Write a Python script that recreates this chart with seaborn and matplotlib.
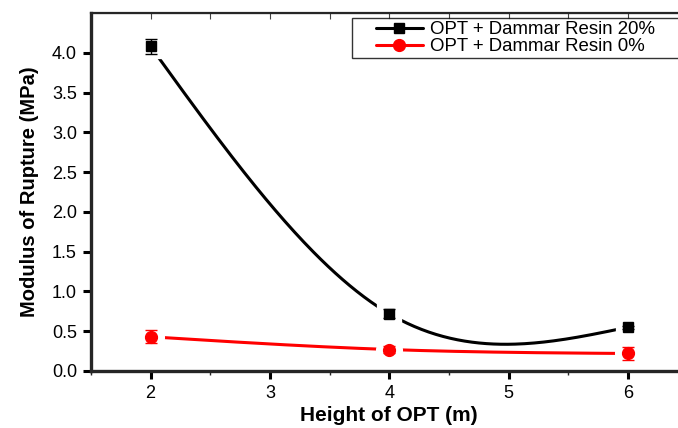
import numpy as np
import pandas as pd
import matplotlib
matplotlib.use("Agg")
import matplotlib.pyplot as plt
from matplotlib.lines import Line2D
from matplotlib.legend_handler import HandlerLine2D
from matplotlib.ticker import MultipleLocator, FormatStrFormatter
import seaborn as sns

# data
height = [2, 4, 6]
mor_20 = [4.08, 0.72, 0.55]
err_20 = [0.09, 0.06, 0.02]
mor_0 = [0.43, 0.27, 0.22]
err_0 = [0.08, 0.05, 0.08]
labels = ["OPT + Dammar Resin 20%", "OPT + Dammar Resin 0%"]


def natural_spline(x, y, n=200):
    # natural cubic spline, like Origin's "Spline" line connect
    x = np.asarray(x, float)
    y = np.asarray(y, float)
    k = len(x)
    h = np.diff(x)
    A = np.zeros((k, k))
    b = np.zeros(k)
    A[0, 0] = A[-1, -1] = 1
    for i in range(1, k - 1):
        A[i, i - 1] = h[i - 1]
        A[i, i] = 2 * (h[i - 1] + h[i])
        A[i, i + 1] = h[i]
        b[i] = 6 * ((y[i + 1] - y[i]) / h[i] - (y[i] - y[i - 1]) / h[i - 1])
    M = np.linalg.solve(A, b)
    xs = np.linspace(x[0], x[-1], n)
    ys = np.empty_like(xs)
    for j, xv in enumerate(xs):
        i = min(np.searchsorted(x, xv, side="right") - 1, k - 2)
        t0, t1 = x[i + 1] - xv, xv - x[i]
        ys[j] = (M[i] * t0**3 + M[i + 1] * t1**3) / (6 * h[i]) \
            + (y[i] / h[i] - M[i] * h[i] / 6) * t0 \
            + (y[i + 1] / h[i] - M[i + 1] * h[i] / 6) * t1
    return xs, ys


sns.set_style("ticks")
plt.rcParams["font.family"] = ["Liberation Sans", "DejaVu Sans"]
plt.rcParams["text.color"] = "black"
plt.rcParams["axes.labelcolor"] = "black"

fig = plt.figure(figsize=(6.78, 4.28), dpi=100)
ax = fig.add_axes([0.134, 0.1332, 0.880, 0.8364])

series = [(mor_20, err_20, "black", "s", 7.5), (mor_0, err_0, "red", "o", 8.5)]
for (vals, errs, col, mk, ms), lab in zip(series, labels):
    xs, ys = natural_spline(height, vals)
    curve = pd.DataFrame({"x": xs, "y": ys})
    sns.lineplot(data=curve, x="x", y="y", ax=ax, color=col, lw=2.2,
                 sort=False, estimator=None, zorder=2)
    pts = pd.DataFrame({"x": height, "y": vals})
    # white halo so the line stops short of the marker
    ax.plot(pts.x, pts.y, ls="none", marker=mk, ms=ms, color="white",
            mec="white", mew=11, zorder=3)
    ax.plot(pts.x, pts.y, ls="none", marker=mk, ms=ms, color=col,
            mec=col, mew=1, zorder=4)
    ax.errorbar(pts.x, pts.y, yerr=errs, fmt="none", ecolor=col,
                elinewidth=1, capsize=4, capthick=1, zorder=5)

ax.set_xlim(1.5, 6.5)
ax.set_ylim(0, 4.5)
ax.xaxis.set_minor_locator(MultipleLocator(0.5))
ax.yaxis.set_major_formatter(FormatStrFormatter("%.1f"))
ax.set_xticks([2, 3, 4, 5, 6])
ax.set_yticks(np.arange(0, 4.01, 0.5))

for side in ["left", "bottom"]:
    ax.spines[side].set_linewidth(2.4)
ax.spines["top"].set_linewidth(1.6)
ax.spines["right"].set_linewidth(1.6)

ax.tick_params(axis="both", which="major", direction="out", length=6,
               width=2.2, labelsize=13, colors="black", pad=4)
ax.tick_params(axis="x", which="minor", direction="out", length=3, width=1)

top = ax.secondary_xaxis("top")
top.set_xticks(np.arange(2, 6.01, 0.5))
top.tick_params(direction="in", length=4, width=0.8, labeltop=False,
                color="#444444")

ax.set_xlabel("Height of OPT (m)", fontsize=15, fontweight="bold", labelpad=3)
ax.set_ylabel("Modulus of Rupture (MPa)", fontsize=14.5, fontweight="bold",
              labelpad=9)

handles = [Line2D([], [], color="black", lw=2.2, marker="s", ms=7.5),
           Line2D([], [], color="red", lw=2.2, marker="o", ms=8.5)]
leg = ax.legend(handles, labels, loc="upper left",
                bbox_to_anchor=(0.437, 0.985, 0.6, 0.0), mode="expand",
                fontsize=13.4, frameon=True, fancybox=False,
                handlelength=3.67, handletextpad=0.4, borderpad=0.15,
                labelspacing=0.0, borderaxespad=0,
                handler_map={Line2D: HandlerLine2D(xpad=1.14)})
leg.get_frame().set_edgecolor("black")
leg.get_frame().set_linewidth(1)

fig.savefig("out.png", dpi=100)
